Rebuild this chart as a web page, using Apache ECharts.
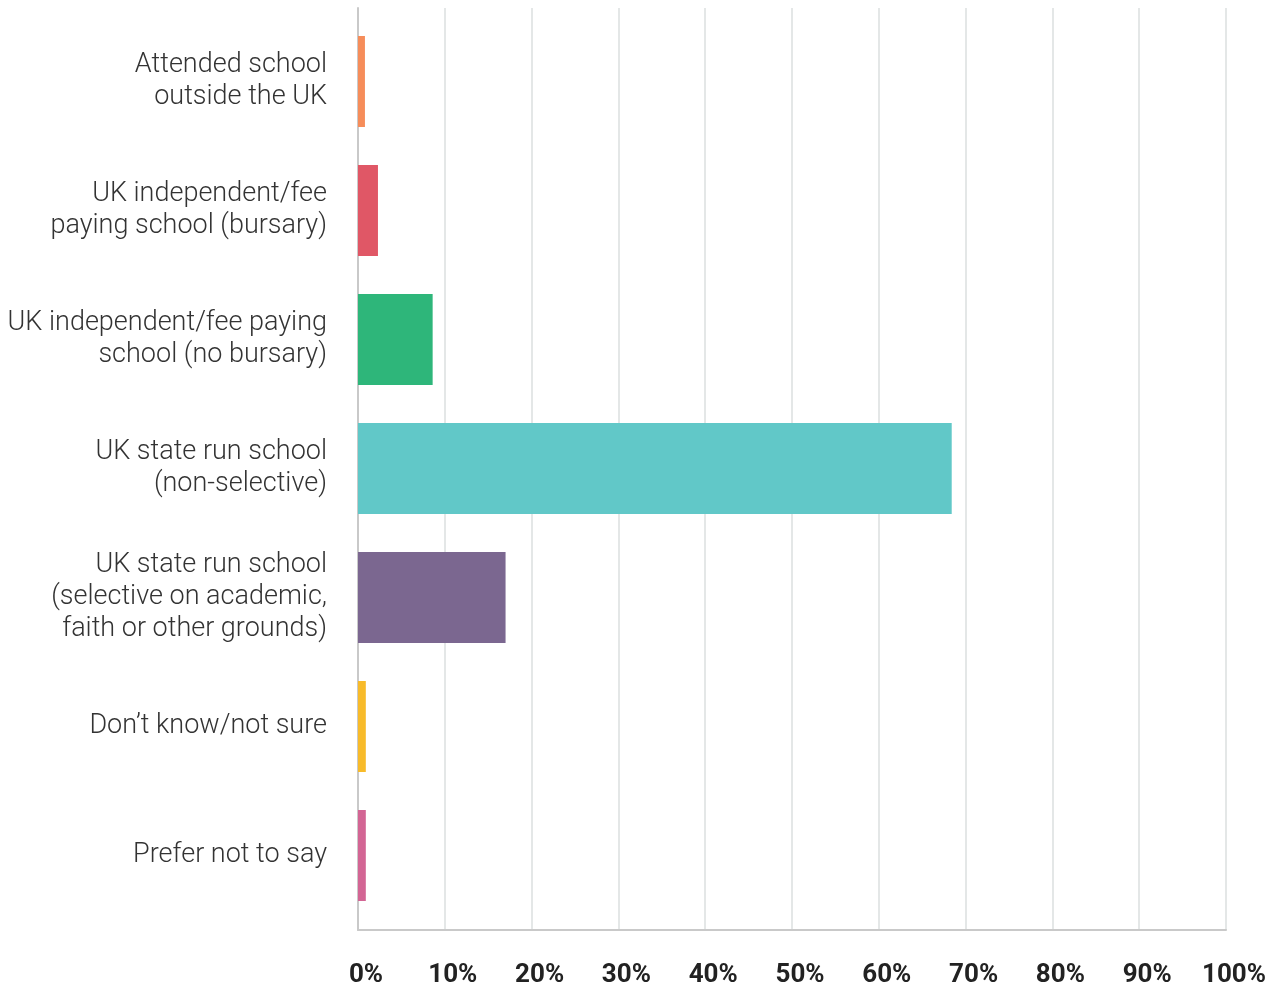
<!DOCTYPE html>
<html>
<head>
<meta charset="utf-8">
<script src="https://cdn.jsdelivr.net/npm/echarts@6/dist/echarts.min.js"></script>
<style>
  html, body { margin: 0; padding: 0; background: #fff; }
  #chart { width: 1276px; height: 988px; }
</style>
</head>
<body>
<div id="chart"></div>
<script>
// School type categories (top to bottom), with their wrapped label text
const categories = [
  'Attended school\noutside the UK',
  'UK independent/fee\npaying school (bursary)',
  'UK independent/fee paying\nschool (no bursary)',
  'UK state run school\n(non-selective)',
  'UK state run school\n(selective on academic,\nfaith or other grounds)',
  'Don\u2019t know/not sure',
  'Prefer not to say'
];
// Share of respondents, percent
const values = [0.8, 2.3, 8.6, 68.4, 17.0, 0.9, 0.9];
const barColors = ['#f68d5a', '#e05766', '#2eb67a', '#61c8c8', '#7b6790', '#f8bb2a', '#d36594'];
const tickValues = [0, 10, 20, 30, 40, 50, 60, 70, 80, 90, 100];

const chart = echarts.init(document.getElementById('chart'), null, { renderer: 'canvas' });

chart.setOption({
  animation: false,
  backgroundColor: '#ffffff',
  grid: [
    // frame: gridlines, axis lines and percent ticks
    { left: 358, right: 50, top: 8, bottom: 58 },
    // bars and category labels
    { left: 358, right: 50, top: 17, bottom: 68 }
  ],
  xAxis: [
    {
      gridIndex: 0,
      type: 'value',
      min: 0, max: 100, interval: 10,
      axisLine: { show: true, lineStyle: { color: '#c9c9c9', width: 2 } },
      axisTick: { show: false },
      splitLine: { show: true, lineStyle: { color: '#e4e7e7', width: 2 } },
      axisLabel: {
        formatter: v => (tickValues.indexOf(v) >= 0 ? v + '%' : ''),
        fontFamily: 'Roboto',
        fontWeight: 'bold',
        fontSize: 26,
        color: '#222222',
        margin: 32,
        padding: [0, 0, 0, 16]
      }
    },
    {
      gridIndex: 1,
      type: 'value',
      min: 0, max: 100,
      show: false,
      splitLine: { show: false }
    }
  ],
  yAxis: [
    {
      gridIndex: 0,
      type: 'category',
      data: [''],
      axisLine: { show: true, lineStyle: { color: '#c9c9c9', width: 2 } },
      axisTick: { show: false },
      axisLabel: { show: false },
      splitLine: { show: false }
    },
    {
      gridIndex: 1,
      type: 'category',
      inverse: true,
      data: categories,
      axisLine: { show: false },
      axisTick: { show: false },
      axisLabel: {
        fontFamily: 'Roboto',
        fontWeight: 300,
        fontSize: 27,
        lineHeight: 32,
        color: '#333333',
        margin: 31,
        align: 'right'
      }
    }
  ],
  series: [
    {
      type: 'bar',
      xAxisIndex: 1,
      yAxisIndex: 1,
      data: values.map((v, i) => ({ value: v, itemStyle: { color: barColors[i] } })),
      barWidth: 91,
      silent: true
    }
  ]
});
</script>
</body>
</html>
